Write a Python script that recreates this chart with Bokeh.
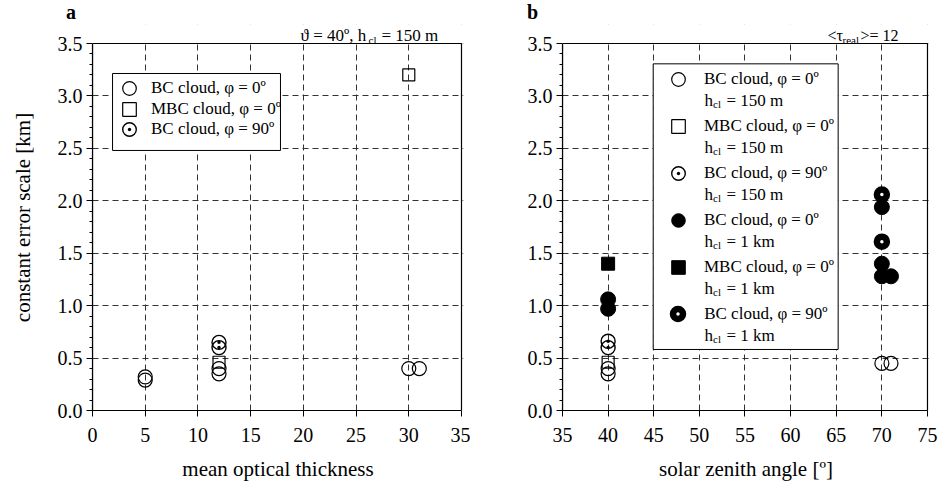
from bokeh.plotting import figure
from bokeh.models import (ColumnDataSource, Legend, LegendItem, Label, BoxAnnotation,
                          SingleIntervalTicker, NumeralTickFormatter, Range1d, Div)
from bokeh.layouts import row, column
from bokeh.embed import file_html
from bokeh.resources import INLINE

FONT = "Liberation Serif"

# ---------------- data: panel a (theta = 40 deg, h_cl = 150 m) ----------------
a_bc0_tau = [5, 5, 12, 12, 30, 31]
a_bc0_err = [0.29, 0.32, 0.35, 0.40, 0.40, 0.40]
a_mbc0_tau = [12, 30]
a_mbc0_err = [0.46, 3.20]
a_bc90_tau = [12, 12]
a_bc90_err = [0.60, 0.65]

# ---------------- data: panel b (<tau_real> = 12) ----------------
b_bc0_150_sza = [40, 40, 70, 71]
b_bc0_150_err = [0.35, 0.40, 0.45, 0.45]
b_mbc0_150_sza = [40]
b_mbc0_150_err = [0.46]
b_bc90_150_sza = [40, 40]
b_bc90_150_err = [0.60, 0.66]
b_bc0_1km_sza = [40, 40, 70, 70, 70, 71]
b_bc0_1km_err = [0.97, 1.06, 1.94, 1.40, 1.28, 1.28]
b_mbc0_1km_sza = [40]
b_mbc0_1km_err = [1.40]
b_bc90_1km_sza = [70, 70]
b_bc90_1km_err = [2.06, 1.61]

legend_a = ["BC cloud, \u03c6 = 0\u00ba", "MBC cloud, \u03c6 = 0\u00ba", "BC cloud, \u03c6 = 90\u00ba"]
legend_b = ["BC cloud, \u03c6 = 0\u00ba", "MBC cloud, \u03c6 = 0\u00ba", "BC cloud, \u03c6 = 90\u00ba",
            "BC cloud, \u03c6 = 0\u00ba", "MBC cloud, \u03c6 = 0\u00ba", "BC cloud, \u03c6 = 90\u00ba"]
legend_b_height = ["= 150 m", "= 150 m", "= 150 m", "= 1 km", "= 1 km", "= 1 km"]

Y_MAX = 3.5
Y_TOP = 3.5 * 386.0 / 367.0   # frame reaches above the plot box to host the top texts


def make_fig(width, x0, x1, xpad, left, right, xlabel, ylabel=None):
    p = figure(width=width, height=459, x_range=Range1d(x0, x1 + xpad), y_range=Range1d(0, Y_TOP),
               output_backend="svg", toolbar_location=None,
               min_border_left=left, min_border_right=right,
               min_border_top=0, min_border_bottom=73)
    p.background_fill_color = "white"
    p.border_fill_color = "white"
    p.outline_line_color = None
    p.xaxis.ticker = SingleIntervalTicker(interval=5, num_minor_ticks=0)
    p.yaxis.ticker = SingleIntervalTicker(interval=0.5, num_minor_ticks=5)
    p.yaxis.formatter = NumeralTickFormatter(format="0.0")
    p.xaxis.bounds = (x0, x1)
    p.yaxis.bounds = (0, Y_MAX)
    for ax in (p.xaxis[0], p.yaxis[0]):
        ax.axis_line_color = "black"
        ax.axis_line_width = 1.2
        ax.major_tick_line_color = "black"
        ax.major_tick_in = 0
        ax.major_tick_out = 6
        ax.minor_tick_line_color = "black"
        ax.minor_tick_in = 0
        ax.minor_tick_out = 3
        ax.major_label_text_font = FONT
        ax.major_label_text_font_size = "20px"
        ax.major_label_text_color = "black"
        ax.axis_label_text_font = FONT
        ax.axis_label_text_font_size = "21px"
        ax.axis_label_text_font_style = "normal"
        ax.axis_label_text_color = "black"
    p.xaxis.minor_tick_line_color = None
    p.xaxis.major_label_standoff = 11
    p.xaxis.axis_label_standoff = 12
    p.yaxis.major_label_standoff = 4
    p.yaxis.axis_label_standoff = 20
    p.xaxis.axis_label = xlabel
    if ylabel:
        p.yaxis.axis_label = ylabel
    for g in (p.xgrid[0], p.ygrid[0]):
        g.grid_line_color = "#333333"
        g.grid_line_dash = "6 4"
        g.grid_line_width = 1
    # white cover above the plot box, then the plot box outline
    p.add_layout(BoxAnnotation(left=x0 - 10, right=x1 + 10, bottom=Y_MAX, top=Y_TOP + 1,
                               fill_color="white", fill_alpha=1.0, line_color=None))
    p.add_layout(BoxAnnotation(left=x0, right=x1, bottom=0, top=Y_MAX,
                               fill_alpha=0, line_color="black", line_width=1.2, line_alpha=1.0))
    return p


def header(width, letter, x):
    html = ('<div style="padding-left:%dpx; font-family:\'Liberation Serif\', serif; '
            'font-size:20px; font-weight:bold; line-height:24px; color:black;">%s</div>' % (x, letter))
    return Div(text=html, width=width, height=24, margin=(0, 0, 0, 0))


def lab(p, x, y, dx, dy, text, size, style="normal", align="left", baseline="alphabetic"):
    p.add_layout(Label(x=x, y=y, x_offset=dx, y_offset=dy, text=text, text_font=FONT,
                       text_font_size=f"{size}px", text_font_style=style,
                       text_align=align, text_baseline=baseline, text_color="black"))


def legend(items, loc, glyph, spacing, standoff):
    return Legend(items=items, location=loc, glyph_width=glyph, glyph_height=glyph,
                  label_height=glyph, spacing=spacing, padding=0, margin=0,
                  label_standoff=standoff, border_line_color=None, background_fill_alpha=0,
                  label_text_font=FONT, label_text_font_size="17px",
                  label_text_color="black")


open_kw = dict(line_color="black", line_width=1.2, fill_alpha=0)
fill_kw = dict(line_color="black", line_width=1.0, fill_color="black")

# ---------------- panel a ----------------
pa = make_fig(470, 0, 35, 0.19, 92, 7, "mean optical thickness", "constant error scale [km]")
sa1 = ColumnDataSource(dict(x=a_bc0_tau, y=a_bc0_err))
sa2 = ColumnDataSource(dict(x=a_mbc0_tau, y=a_mbc0_err))
sa3 = ColumnDataSource(dict(x=a_bc90_tau, y=a_bc90_err))
ra1 = pa.scatter("x", "y", source=sa1, marker="circle", size=14, **open_kw)
ra2 = pa.scatter("x", "y", source=sa2, marker="square", size=12, **open_kw)
ra3 = pa.scatter("x", "y", source=sa3, marker="circle_dot", size=14, line_color="black",
                 line_width=1.4, fill_alpha=0)

pa.add_layout(BoxAnnotation(left=1.9, right=17.83, top=3.214, bottom=2.48,
                            fill_color="white", fill_alpha=1.0,
                            line_color="black", line_width=1.0, line_alpha=1.0))
for i, (t, r) in enumerate(zip(legend_a, [ra1, ra2, ra3])):
    yb = [305.5, 284.5, 264.5][i]
    pa.add_layout(legend([LegendItem(label=t, renderers=[r])], (20, yb), 34, 0, 5))

lab(pa, 0, 3.5, 208, 8, "\u03d1 = 40\u00ba, h", 17)
lab(pa, 0, 3.5, 276, 4, "cl", 11)
lab(pa, 0, 3.5, 289, 8, "= 150 m", 17)

# ---------------- panel b ----------------
pb = make_fig(469, 35, 75, 0.22, 92, 10, "solar zenith angle [\u00ba]")
sb1 = ColumnDataSource(dict(x=b_bc0_150_sza, y=b_bc0_150_err))
sb2 = ColumnDataSource(dict(x=b_mbc0_150_sza, y=b_mbc0_150_err))
sb3 = ColumnDataSource(dict(x=b_bc90_150_sza, y=b_bc90_150_err))
sb4 = ColumnDataSource(dict(x=b_bc0_1km_sza, y=b_bc0_1km_err))
sb5 = ColumnDataSource(dict(x=b_mbc0_1km_sza, y=b_mbc0_1km_err))
sb6 = ColumnDataSource(dict(x=b_bc90_1km_sza, y=b_bc90_1km_err))
rb1 = pb.scatter("x", "y", source=sb1, marker="circle", size=14, **open_kw)
rb2 = pb.scatter("x", "y", source=sb2, marker="square", size=12, **open_kw)
rb3 = pb.scatter("x", "y", source=sb3, marker="circle_dot", size=14, line_color="black",
                 line_width=1.4, fill_alpha=0)
rb4 = pb.scatter("x", "y", source=sb4, marker="circle", size=15, **fill_kw)
rb5 = pb.scatter("x", "y", source=sb5, marker="square", size=13, **fill_kw)
rb6 = pb.scatter("x", "y", source=sb6, marker="circle", size=10, line_color="black",
                 line_width=6.5, fill_color="white")

pb.add_layout(BoxAnnotation(left=44.94, right=65.21, top=3.306, bottom=0.582,
                            fill_color="white", fill_alpha=1.0,
                            line_color="black", line_width=1.0, line_alpha=1.0))
rens_b = [rb1, rb2, rb3, rb4, rb5]
pb.add_layout(legend([LegendItem(label=t, renderers=[r]) for t, r in zip(legend_b[:5], rens_b)],
                     (99, 126.5), 34, 13, 9))
pb.add_layout(legend([LegendItem(label=legend_b[5], renderers=[rb6])], (103.2, 84), 25, 0, 14))

for i, t in enumerate(legend_b_height):
    yc = 99.5 + 47 * i
    lab(pb, 35, 3.5, 142, -(yc - 43), "h", 17, baseline="middle")
    lab(pb, 35, 3.5, 150.5, -(yc - 43) - 4, "cl", 11, baseline="middle")
    lab(pb, 35, 3.5, 164, -(yc - 43), t, 17, baseline="middle")

lab(pb, 35, 3.5, 265, 8, "<\u03c4", 16)
lab(pb, 35, 3.5, 280, 4, "real", 11)
lab(pb, 35, 3.5, 298, 8, ">= 12", 16)

ha = header(470, "a", 66)
hb = header(469, "b", 57)

layout = row(column(ha, pa), column(hb, pb))
open("out.html", "w").write(file_html(layout, INLINE))
